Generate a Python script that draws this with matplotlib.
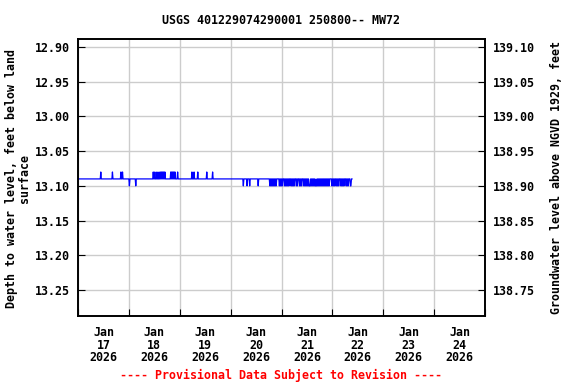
import numpy as np
import pandas as pd
import matplotlib
matplotlib.use("Agg")
import matplotlib.pyplot as plt
import matplotlib.dates as mdates

plt.rcParams['font.family'] = ['DejaVu Sans Mono']
plt.rcParams['font.weight'] = 'bold'

# readings every 15 min, Jan 17 00:00 -> Jan 22 09:15 (hours since start)
start = pd.Timestamp('2026-01-17 00:00')
n_hours = 129.25
base_level = 13.09
high_level = 13.08
low_level = 13.10

# hours where the level read 13.08 (above baseline)
up_hours = [10.75, 16.25, 20.25, 21.0, 35.5, 36.25, 37.25, 38.25, 39.0, 39.5, 40.0,
            40.5, 41.0, 43.75, 44.25, 44.75, 45.25, 45.75, 47.0, 53.75, 54.75,
            56.5, 60.75, 63.5]
# hours where the level read 13.10 (below baseline)
down_hours = [24.25, 27.25, 78.0, 79.75, 81.0, 85.0,
              90.5, 91.0, 91.5, 92.0, 92.5, 93.0, 93.5, 95.0, 95.5, 96.0, 96.5,
              97.5, 98.0, 98.5, 99.0, 99.5, 100.5, 101.0, 101.5, 102.0, 103.0,
              103.5, 104.5, 105.0, 105.5, 106.5, 107.0, 107.5, 108.0, 108.5,
              109.0, 109.25, 109.5, 110.0, 110.5, 111.0, 111.5, 112.0, 112.25,
              112.5, 113.0, 113.5, 114.0, 114.5, 115.0, 115.5, 116.0, 116.5,
              117.0, 117.5, 118.0, 118.5, 119.75, 120.25, 120.75, 121.25, 122.0,
              122.5, 123.0, 124.0, 124.5, 125.0, 125.5, 126.5, 127.0, 127.5,
              128.5, 128.75]

day_labels = ['Jan\n17\n2026', 'Jan\n18\n2026', 'Jan\n19\n2026', 'Jan\n20\n2026',
              'Jan\n21\n2026', 'Jan\n22\n2026', 'Jan\n23\n2026', 'Jan\n24\n2026']
left_ticks = [12.90, 12.95, 13.00, 13.05, 13.10, 13.15, 13.20, 13.25]
datum_offset = 152.0

hours = np.arange(0, n_hours + 0.01, 0.25)
level = np.full(len(hours), base_level)
for h in up_hours:
    level[int(round(h * 4))] = high_level
for h in down_hours:
    level[int(round(h * 4))] = low_level
times = start + pd.to_timedelta(hours, unit='h')

fig = plt.figure(figsize=(5.76, 3.84), dpi=100)
ax = fig.add_axes([78/576, 1 - 316/384, 407/576, 277/384])

ax.plot(times, level, color='#0000ff', lw=0.9)

ax.set_xlim(start, start + pd.Timedelta(days=8))
ax.set_ylim(13.2874, 12.8885)

ax.xaxis.set_major_locator(mdates.DayLocator())
ax.xaxis.set_major_formatter(plt.NullFormatter())
noon = [start + pd.Timedelta(hours=12 + 24 * i) for i in range(len(day_labels))]
ax.set_xticks(noon, labels=day_labels, minor=True)
ax.tick_params(axis='x', which='minor', length=0, pad=7, labelsize=8.4)
ax.tick_params(axis='x', which='major', direction='in', length=5, top=False)
for lab in ax.get_xticklabels(minor=True):
    lab.set_linespacing(0.98)

ax.set_yticks(left_ticks, labels=[f'{v:.2f}' for v in left_ticks])
ax.tick_params(axis='y', direction='in', length=5, labelsize=8.4, pad=6)
ax.grid(True, which='major', color='#cccccc', lw=1)
ax.set_axisbelow(True)

ax2 = ax.twinx()
ax2.set_ylim(datum_offset - 13.2874, datum_offset - 12.8885)
right_ticks = [round(datum_offset - v, 2) for v in left_ticks]
ax2.set_yticks(right_ticks, labels=[f'{v:.2f}' for v in right_ticks])
ax2.tick_params(axis='y', direction='in', length=5, labelsize=8.4, pad=6)

for a in (ax, ax2):
    for s in a.spines.values():
        s.set_linewidth(1.2)

fig.text(281/576, 1 - 20/384, 'USGS 401229074290001 250800-- MW72',
         ha='center', va='center', fontsize=8.4, fontweight='bold')
fig.text(18/576, 1 - 178/384, 'Depth to water level, feet below land\nsurface',
         ha='center', va='center', rotation=90, fontsize=8.4, fontweight='bold',
         linespacing=1.0)
fig.text(557/576, 1 - 178/384, 'Groundwater level above NGVD 1929, feet',
         ha='center', va='center', rotation=90, fontsize=8.4, fontweight='bold')
fig.text(281/576, 1 - 375/384, '---- Provisional Data Subject to Revision ----',
         ha='center', va='center', fontsize=8.4, fontweight='bold', color='red')

fig.savefig('out.png', dpi=100)
